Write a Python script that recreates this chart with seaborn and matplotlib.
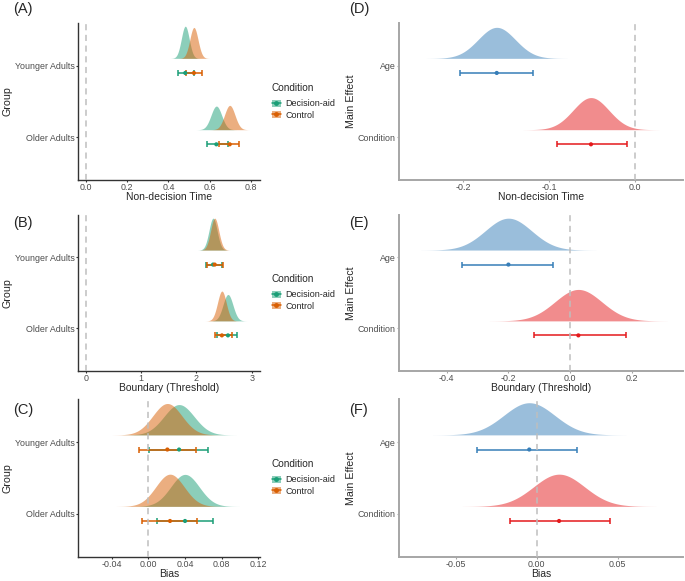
import numpy as np
import pandas as pd
import seaborn as sns
import matplotlib.pyplot as plt
from matplotlib.patches import Patch
from matplotlib.lines import Line2D
from matplotlib.ticker import FormatStrFormatter

# categories
groups = ["Younger Adults", "Older Adults"]
conditions = ["Decision-aid", "Control"]
effects = ["Age", "Condition"]

# group posteriors, one row per group (Younger, Older): low, estimate, high
ndt_aid = [[0.448, 0.482, 0.523], [0.589, 0.633, 0.691]]
ndt_ctrl = [[0.484, 0.524, 0.562], [0.646, 0.698, 0.745]]
bnd_aid = [[2.17, 2.30, 2.46], [2.38, 2.57, 2.73]]
bnd_ctrl = [[2.19, 2.33, 2.48], [2.33, 2.46, 2.64]]
bias_aid = [[0.0011, 0.0336, 0.0656], [0.0098, 0.0401, 0.0710]]
bias_ctrl = [[-0.0102, 0.0208, 0.0521], [-0.0072, 0.0237, 0.0536]]

# main effect posteriors, one row per effect (Age, Condition): low, estimate, high
ndt_eff = [[-0.204, -0.161, -0.119], [-0.091, -0.051, -0.009]]
bnd_eff = [[-0.350, -0.200, -0.056], [-0.117, 0.027, 0.181]]
bias_eff = [[-0.037, -0.0046, 0.0247], [-0.0165, 0.0138, 0.0452]]

sns.set_theme(style="ticks")
plt.rcParams["font.family"] = ["Liberation Sans", "DejaVu Sans"]
plt.rcParams["axes.unicode_minus"] = False

group_pal = sns.color_palette("Dark2", 2)   # teal, orange
set1 = sns.color_palette("Set1", 2)         # red, blue
effect_pal = [set1[1], set1[0]]             # Age blue, Condition red


def group_df(aid, ctrl):
    recs = []
    for name, rows in zip(conditions, [aid, ctrl]):
        for i, (lo, est, hi) in enumerate(rows):
            recs.append({"series": name, "row": groups[i], "lo": lo,
                         "est": est, "hi": hi, "y": 2 - i})
    return pd.DataFrame(recs)


def effect_df(rows):
    recs = []
    for i, (lo, est, hi) in enumerate(rows):
        recs.append({"series": effects[i], "row": effects[i], "lo": lo,
                     "est": est, "hi": hi, "y": 2 - i})
    return pd.DataFrame(recs)


def draw_panel(ax, df, palette, xlim, xticks, fmt, xlabel, ylabel, right):
    names = list(df["series"].unique())
    # density height scaled to the narrowest posterior in the panel
    sds = (df["hi"] - df["lo"]) / 3.92
    peak = (1 / sds).max()
    for (_, r), sd in zip(df.iterrows(), sds):
        c = palette[names.index(r["series"])]
        xs = np.linspace(r["est"] - 3.8 * sd, r["est"] + 3.8 * sd, 300)
        dens = np.exp(-0.5 * ((xs - r["est"]) / sd) ** 2) / sd / peak * 0.45
        base = r["y"] + 0.105
        ax.fill_between(xs, base, base + dens, color=c, alpha=0.5, lw=0)
    for _, r in df.iterrows():
        c = palette[names.index(r["series"])]
        ax.errorbar(r["est"], r["y"] - 0.1, xerr=[[r["est"] - r["lo"]], [r["hi"] - r["est"]]],
                    fmt="none", ecolor=c, elinewidth=1.1, capsize=2.5, capthick=1.1, zorder=3)
    pts = df.assign(yp=df["y"] - 0.1)
    sns.scatterplot(data=pts, x="est", y="yp", hue="series", palette=palette,
                    s=9, linewidth=0, legend=False, ax=ax, zorder=4)
    ax.axvline(0, color="#BEBEBE", lw=1.1, dashes=(4, 3), zorder=5)

    ax.set_xlim(*xlim)
    ax.set_ylim(0.4, 2.6)
    ax.set_xticks(xticks)
    ax.xaxis.set_major_formatter(FormatStrFormatter(fmt))
    ax.set_yticks([2, 1])
    ax.set_yticklabels(list(df["row"].unique()))
    ax.set_xlabel(xlabel, fontsize=7.5)
    ax.set_ylabel(ylabel, fontsize=7.7)
    sc = "#A6A6A6" if right else "#333333"
    for s in ["left", "bottom"]:
        ax.spines[s].set_color(sc)
        ax.spines[s].set_linewidth(1.4 if right else 1.0)
    sns.despine(ax=ax)
    ax.tick_params(axis="both", labelsize=6.4, labelcolor="#4D4D4D",
                   length=1.6, width=0.8, pad=0.8, color=sc)
    ax.grid(False)
    h_px = ax.get_position().height * 581
    w_px = ax.get_position().width * 685
    ax.xaxis.set_label_coords(0.5, -12.2 / h_px)
    ax.yaxis.set_label_coords((-43 if right else -65.5) / w_px, 0.5)


fig = plt.figure(figsize=(6.85, 5.81), dpi=100)
lx, lw_ = 78 / 685, 182 / 685
rx, rw = 398.7 / 685, 284.3 / 685
rows = [(23, 180), (215, 370.8), (399.5, 556.7)]

panels_left = [
    (group_df(ndt_aid, ndt_ctrl), (-0.039, 0.845),
     [0, 0.2, 0.4, 0.6, 0.8], "%.1f", "Non-decision Time"),
    (group_df(bnd_aid, bnd_ctrl), (-0.145, 3.15),
     [0, 1, 2, 3], "%d", "Boundary (Threshold)"),
    (group_df(bias_aid, bias_ctrl), (-0.0768, 0.122),
     [-0.04, 0, 0.04, 0.08, 0.12], "%.2f", "Bias"),
]
panels_right = [
    (effect_df(ndt_eff), (-0.2754, 0.0564),
     [-0.2, -0.1, 0.0], "%.1f", "Non-decision Time"),
    (effect_df(bnd_eff), (-0.556, 0.3665),
     [-0.4, -0.2, 0.0, 0.2], "%.1f", "Boundary (Threshold)"),
    (effect_df(bias_eff), (-0.0852, 0.0903),
     [-0.05, 0, 0.05], "%.2f", "Bias"),
]

left_labels = ["(A)", "(B)", "(C)"]
right_labels = ["(D)", "(E)", "(F)"]
label_y = [9.5, 223, 410]
legend_top = [83, 274, 459]

for i, (top, bot) in enumerate(rows):
    y0 = 1 - bot / 581
    h = (bot - top) / 581
    axl = fig.add_axes([lx, y0, lw_, h])
    df, xlim, xt, fmt, xlab = panels_left[i]
    draw_panel(axl, df, group_pal, xlim, xt, fmt, xlab, "Group", False)

    axr = fig.add_axes([rx, y0, rw, h])
    df, xlim, xt, fmt, xlab = panels_right[i]
    draw_panel(axr, df, effect_pal, xlim, xt, fmt, xlab, "Main Effect", True)

    handles = [(Patch(facecolor=c, alpha=0.5, lw=0),
                Line2D([], [], color=c, lw=1.1, marker="o", markersize=2.5))
               for c in group_pal]
    leg = axl.legend(handles, conditions, title="Condition", loc="upper left",
                     bbox_to_anchor=(271.5 / 685, 1 - legend_top[i] / 581),
                     bbox_transform=fig.transFigure, frameon=False, fontsize=6.5,
                     title_fontsize=7.2, handlelength=1.0, handleheight=0.85,
                     handletextpad=0.5, labelspacing=0.28, borderpad=0, borderaxespad=0)
    leg._legend_box.align = "left"
    leg._legend_box.sep = 4.5

    fig.text(12.7 / 685, 1 - label_y[i] / 581, left_labels[i], fontsize=10.5,
             va="center", ha="left")
    fig.text(349 / 685, 1 - label_y[i] / 581, right_labels[i], fontsize=10.5,
             va="center", ha="left")

fig.savefig("out.png", dpi=100)
